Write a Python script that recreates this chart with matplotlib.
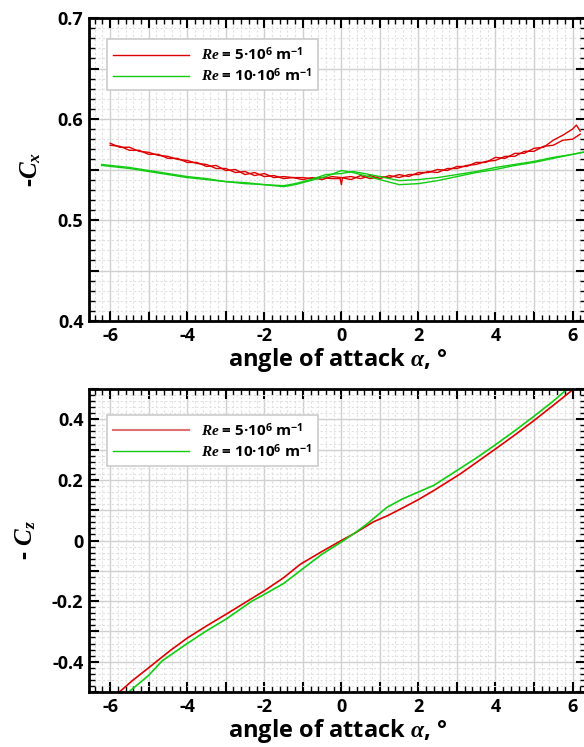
import numpy as np
import matplotlib
matplotlib.use("Agg")
import matplotlib.pyplot as plt
from matplotlib.ticker import MultipleLocator, FuncFormatter
from matplotlib.lines import Line2D

plt.rcParams['font.family'] = ['Open Sans', 'Noto Sans', 'DejaVu Sans']
plt.rcParams['font.weight'] = 'bold'
plt.rcParams['axes.labelweight'] = 'bold'
plt.rcParams['mathtext.fontset'] = 'custom'
plt.rcParams['mathtext.it'] = 'Liberation Serif:italic:bold'
plt.rcParams['mathtext.rm'] = 'Open Sans:bold'
plt.rcParams['mathtext.bf'] = 'Open Sans:bold'

# -Cx, Re = 5e6 (two branches, hysteresis)
cx_red_a_alpha = [-6.0, -5.75, -5.5, -5.25, -5.0, -4.75, -4.5, -4.25, -4.0, -3.75,
                  -3.5, -3.25, -3.0, -2.75, -2.5, -2.25, -2.0, -1.75, -1.5, -1.25,
                  -1.0, -0.75, -0.5, -0.25, -0.03, 0.0, 0.03, 0.25, 0.5, 0.75,
                  1.0, 1.25, 1.5, 1.75, 2.0, 2.25, 2.5, 2.75, 3.0, 3.25,
                  3.5, 3.75, 4.0, 4.25, 4.5, 4.75, 5.0, 5.25, 5.5, 5.75, 6.0, 6.2]
cx_red_a = [0.576, 0.572, 0.572, 0.568, 0.567, 0.564, 0.563, 0.560, 0.559, 0.556,
            0.555, 0.551, 0.551, 0.547, 0.548, 0.544, 0.546, 0.542, 0.543, 0.542,
            0.542, 0.541, 0.542, 0.541, 0.541, 0.535, 0.542, 0.543, 0.541, 0.544,
            0.541, 0.544, 0.542, 0.545, 0.545, 0.548, 0.547, 0.551, 0.551, 0.554,
            0.555, 0.558, 0.559, 0.563, 0.563, 0.568, 0.568, 0.573, 0.574, 0.579, 0.580, 0.585]
cx_red_b_alpha = [-6.0, -5.75, -5.5, -5.25, -5.0, -4.75, -4.5, -4.25, -4.0, -3.75,
                  -3.5, -3.25, -3.0, -2.75, -2.5, -2.25, -2.0, -1.75, -1.5, -1.25,
                  -1.0, -0.75, -0.5, -0.25, 0.0, 0.25, 0.5, 0.75, 1.0, 1.25,
                  1.5, 1.75, 2.0, 2.25, 2.5, 2.75, 3.0, 3.25, 3.5, 3.75,
                  4.0, 4.25, 4.5, 4.75, 5.0, 5.25, 5.5, 5.75, 6.0, 6.1, 6.2]
cx_red_b = [0.574, 0.573, 0.569, 0.569, 0.565, 0.565, 0.561, 0.561, 0.557, 0.557,
            0.553, 0.554, 0.549, 0.550, 0.545, 0.547, 0.543, 0.544, 0.541, 0.542,
            0.540, 0.542, 0.540, 0.543, 0.542, 0.540, 0.544, 0.541, 0.543, 0.542,
            0.545, 0.543, 0.547, 0.547, 0.550, 0.549, 0.553, 0.553, 0.557, 0.557,
            0.562, 0.561, 0.566, 0.566, 0.571, 0.572, 0.579, 0.584, 0.590, 0.594, 0.588]

# -Cx, Re = 10e6
cx_grn_alpha = [-6.22, -5.5, -5.0, -4.5, -4.0, -3.5, -3.0, -2.5, -2.0, -1.5,
                -1.2, -0.8, -0.4, 0.0, 0.3, 0.6, 1.0, 1.5, 2.0, 2.5,
                3.0, 3.5, 4.0, 4.5, 5.0, 5.5, 6.0, 6.4]
cx_grn_a = [0.554, 0.551, 0.548, 0.545, 0.542, 0.540, 0.538, 0.536, 0.535, 0.533,
            0.535, 0.539, 0.543, 0.549, 0.547, 0.544, 0.540, 0.535, 0.536, 0.539,
            0.543, 0.547, 0.550, 0.554, 0.557, 0.561, 0.565, 0.568]
cx_grn_b = [0.555, 0.552, 0.549, 0.546, 0.543, 0.541, 0.538, 0.537, 0.535, 0.534,
            0.536, 0.540, 0.545, 0.546, 0.548, 0.546, 0.543, 0.539, 0.540, 0.542,
            0.545, 0.548, 0.552, 0.555, 0.558, 0.562, 0.565, 0.568]

# -Cz
cz_red_alpha = [-5.76, -5.42, -5.0, -4.45, -4.0, -3.5, -3.0, -2.5, -2.0, -1.5,
                -1.06, -0.5, 0.0, 0.32, 0.84, 1.2, 1.6, 2.0, 2.4, 3.09,
                3.5, 4.0, 4.5, 5.0, 5.5, 6.05]
cz_red = [-0.500, -0.462, -0.420, -0.364, -0.322, -0.282, -0.244, -0.205, -0.166, -0.123,
          -0.078, -0.036, 0.000, 0.022, 0.062, 0.082, 0.108, 0.135, 0.165, 0.220,
          0.257, 0.302, 0.348, 0.396, 0.446, 0.502]
cz_grn_alpha = [-5.52, -5.0, -4.65, -4.0, -3.5, -3.0, -2.32, -2.0, -1.5, -1.06,
                -0.5, 0.0, 0.32, 0.67, 1.19, 1.6, 2.4, 3.0, 3.5, 4.0,
                4.5, 5.0, 5.5, 5.88]
cz_grn = [-0.500, -0.445, -0.397, -0.340, -0.298, -0.260, -0.200, -0.178, -0.142, -0.099,
          -0.045, -0.005, 0.022, 0.055, 0.110, 0.138, 0.182, 0.231, 0.272, 0.316,
          0.362, 0.410, 0.460, 0.502]

labels = [r'$\mathit{Re}$ = 5·10$^{6}$ m$^{-1}$', r'$\mathit{Re}$ = 10·10$^{6}$ m$^{-1}$']
RED = '#dd0000'
GREEN = '#11cc11'

fig = plt.figure(figsize=(5.84, 7.47), dpi=100)
ax1 = fig.add_axes([89/584, 1-321/747, 497/584, 303/747])
ax2 = fig.add_axes([89/584, 1-692/747, 497/584, 303/747])


def style(ax):
    ax.xaxis.set_major_locator(MultipleLocator(1))
    ax.xaxis.set_minor_locator(MultipleLocator(0.2))
    ax.xaxis.set_major_formatter(FuncFormatter(lambda v, p: f'{v:.0f}' if round(v) % 2 == 0 else ''))
    ax.tick_params(which='both', direction='in', top=True, right=True, labelsize=13, pad=4)
    ax.tick_params(which='major', length=7, width=1.5)
    ax.tick_params(which='minor', length=4, width=1)
    ax.grid(which='major', color='#d0d0d0', lw=1.0, ls='-')
    ax.grid(which='minor', color='#e0e0e0', lw=0.8, ls=(0, (2, 2)))
    ax.set_axisbelow(True)
    for s in ax.spines.values():
        s.set_linewidth(2)
    ax.set_xlabel(r'angle of attack $\alpha$, °', fontsize=17, labelpad=1)


# top: -Cx
ax1.plot(cx_red_a_alpha, cx_red_a, color=RED, lw=1)
ax1.plot(cx_red_b_alpha, cx_red_b, color=RED, lw=1)
ax1.plot(cx_grn_alpha, cx_grn_a, color=GREEN, lw=1)
ax1.plot(cx_grn_alpha, cx_grn_b, color=GREEN, lw=1)
ax1.set_xlim(-6.55, 6.35)
ax1.set_ylim(0.4, 0.7)
style(ax1)
ax1.yaxis.set_major_locator(MultipleLocator(0.05))
ax1.yaxis.set_minor_locator(MultipleLocator(0.01))
ax1.yaxis.set_major_formatter(FuncFormatter(lambda v, p: f'{v:.1f}' if round(v * 20) % 2 == 0 else ''))
ax1.set_ylabel(r'-$\mathit{C}_{\mathit{x}}$', fontsize=18, labelpad=10)

h1 = [Line2D([], [], color=RED, lw=1), Line2D([], [], color=GREEN, lw=1)]
leg = ax1.legend(h1, labels, loc='upper left', bbox_to_anchor=(0.02, 0.955), fontsize=11,
                 frameon=True, fancybox=False, framealpha=1, edgecolor='#cccccc',
                 handlelength=5.0, borderpad=0.4, labelspacing=0.2)
leg.get_frame().set_linewidth(1.2)

# bottom: -Cz
ax2.plot(cz_red_alpha, cz_red, color=RED, lw=1.2)
ax2.plot(cz_grn_alpha, cz_grn, color=GREEN, lw=1.2)
ax2.set_xlim(-6.55, 6.35)
ax2.set_ylim(-0.5, 0.5)
style(ax2)
ax2.yaxis.set_major_locator(MultipleLocator(0.1))
ax2.yaxis.set_minor_locator(MultipleLocator(0.02))
ax2.yaxis.set_major_formatter(FuncFormatter(
    lambda v, p: ('0' if abs(v) < 1e-9 else f'{v:.1f}') if round(v * 10) % 2 == 0 else ''))
ax2.set_ylabel(r'- $\mathit{C}_{\mathit{z}}$', fontsize=18, labelpad=10)

h2 = [Line2D([], [], color='#e07070', lw=1.5), Line2D([], [], color=GREEN, lw=1)]
leg2 = ax2.legend(h2, labels, loc='upper left', bbox_to_anchor=(0.02, 0.94), fontsize=11,
                  frameon=True, fancybox=False, framealpha=1, edgecolor='#cccccc',
                  handlelength=5.0, borderpad=0.4, labelspacing=0.2)
leg2.get_frame().set_linewidth(1.2)

fig.savefig('out.png', dpi=100)
